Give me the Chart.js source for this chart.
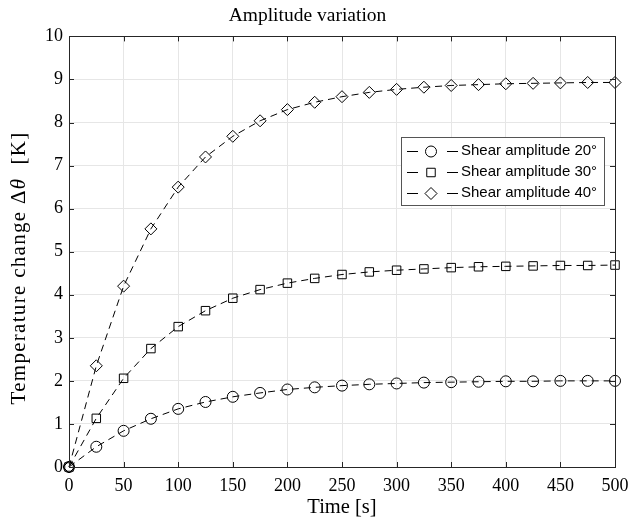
<!DOCTYPE html>
<html><head><meta charset="utf-8">
<script src="https://cdn.jsdelivr.net/npm/chart.js@4/dist/chart.umd.min.js"></script>
<style>html,body{margin:0;padding:0;background:#fff}#wrap{width:632px;height:520px}</style>
</head><body><div id="wrap"><canvas id="c" width="632" height="520"></canvas></div>
<script>
const times = [0,25,50,75,100,125,150,175,200,225,250,275,300,325,350,375,400,425,450,475,500];
const amp20 = [0,0.47,0.84,1.12,1.35,1.51,1.63,1.72,1.80,1.85,1.89,1.92,1.94,1.96,1.97,1.98,1.99,1.99,2.00,2.00,2.00];
const amp30 = [0,1.13,2.06,2.75,3.26,3.63,3.92,4.12,4.27,4.38,4.47,4.53,4.57,4.60,4.63,4.65,4.66,4.67,4.68,4.68,4.69];
const amp40 = [0,2.35,4.20,5.53,6.50,7.20,7.68,8.04,8.30,8.47,8.60,8.70,8.77,8.82,8.86,8.88,8.90,8.91,8.92,8.93,8.93];
const seriesLabels = ['Shear amplitude 20°','Shear amplitude 30°','Shear amplitude 40°'];
const pointStyles = ['circle','rect','rectRot'];
const xTicks = [0,50,100,150,200,250,300,350,400,450,500];
const yTicks = [0,1,2,3,4,5,6,7,8,9,10];
const titleText = 'Amplitude variation';
const xTitle = 'Time [s]';
const yTitleParts = [['Temperature change ', false], ['\u0394', false], ['\u03B8', true], ['  [K]', false]];

const SERIF = '"Liberation Serif", "Times New Roman", serif';
const SANS = '"Liberation Sans", Arial, sans-serif';

function mk(label, vals, style, r){
  return {label, data: times.map((t,i)=>({x:t,y:vals[i]})), borderColor:'#000', borderWidth:1,
    borderDash:[7,5], pointStyle:style, pointRadius:r, pointHoverRadius:r, pointBorderColor:'#000',
    pointBackgroundColor:'rgba(0,0,0,0)', pointBorderWidth:1, fill:false, tension:0, clip:false};
}

const boxTicks = {
  id:'boxTicks',
  afterDatasetsDraw(chart){
    const {ctx, chartArea:a, scales:{x,y}} = chart;
    ctx.save();
    ctx.strokeStyle = '#262626'; ctx.lineWidth = 1;
    ctx.beginPath();
    xTicks.forEach(v=>{const p=Math.round(x.getPixelForValue(v))+0.5;
      ctx.moveTo(p,a.bottom); ctx.lineTo(p,a.bottom-5);
      ctx.moveTo(p,a.top); ctx.lineTo(p,a.top+5);});
    yTicks.forEach(v=>{const p=Math.round(y.getPixelForValue(v))+0.5;
      ctx.moveTo(a.left,p); ctx.lineTo(a.left+5,p);
      ctx.moveTo(a.right,p); ctx.lineTo(a.right-5,p);});
    ctx.stroke();
    ctx.strokeRect(Math.round(a.left)+0.5, Math.round(a.top)+0.5, Math.round(a.right-a.left), Math.round(a.bottom-a.top));
    ctx.restore();
  },
  afterDraw(chart){
    const ctx = chart.ctx;
    // y axis title with italic theta
    ctx.save();
    ctx.translate(19, 268);
    ctx.rotate(-Math.PI/2);
    ctx.fillStyle = '#000'; ctx.textBaseline = 'middle'; ctx.textAlign = 'left';
    const fN = '21px ' + SERIF, fI = 'italic 21px ' + SERIF;
    ctx.letterSpacing = '1.3px';
    let total = 0;
    yTitleParts.forEach(([t,it])=>{ctx.font = it?fI:fN; total += ctx.measureText(t).width;});
    let xx = -total/2;
    yTitleParts.forEach(([t,it])=>{ctx.font = it?fI:fN; ctx.fillText(t, xx, 0); xx += ctx.measureText(t).width;});
    ctx.restore();
    // legend
    const L = 401, T = 137, W = 203, H = 68;
    ctx.save();
    ctx.fillStyle = '#fff'; ctx.fillRect(L,T,W,H);
    ctx.strokeStyle = '#555'; ctx.lineWidth = 1;
    ctx.strokeRect(L+0.5,T+0.5,W,H);
    const rows = [151,172,193];
    chart.data.datasets.forEach((ds,i)=>{
      const yy = rows[i]+0.5;
      ctx.strokeStyle='#000'; ctx.lineWidth=1; ctx.setLineDash([]);
      ctx.beginPath(); ctx.moveTo(407,yy); ctx.lineTo(418,yy); ctx.moveTo(447,yy); ctx.lineTo(458,yy); ctx.stroke();
      ctx.fillStyle='rgba(0,0,0,0)';
      Chart.helpers.drawPoint(ctx, {pointStyle: ds.pointStyle, radius: ds.pointRadius, borderWidth:1}, 431, yy);
      ctx.fillStyle='#000'; ctx.font = '15px ' + SANS; ctx.textBaseline='middle'; ctx.textAlign='left';
      ctx.fillText(ds.label, 461, rows[i]);
    });
    ctx.restore();
  }
};

new Chart(document.getElementById('c'), {
  type:'line',
  data:{datasets:[mk(seriesLabels[0],amp20,pointStyles[0],5.5), mk(seriesLabels[1],amp30,pointStyles[1],6), mk(seriesLabels[2],amp40,pointStyles[2],6)]},
  options:{
    responsive:false, animation:false, devicePixelRatio:1,
    layout:{padding:{left:0,right:17,top:0,bottom:0}},
    plugins:{
      legend:{display:false}, tooltip:{enabled:false},
      title:{display:true, text:titleText, color:'#000', font:{family:SERIF, size:19.5, weight:'normal'}, padding:{top:4,bottom:9}}
    },
    scales:{
      x:{type:'linear', min:0, max:500,
        afterBuildTicks(s){ s.ticks = xTicks.map(v=>({value:v})); },
        afterFit(s){ s.height = 53; s.paddingRight = 2; s.paddingLeft = 2; },
        grid:{color:'#e6e6e6', drawTicks:false},
        border:{display:false},
        ticks:{color:'#000', padding:8, maxRotation:0, font:{family:SERIF, size:18}},
        title:{display:true, text:xTitle, color:'#000', font:{family:SERIF, size:20.5}, padding:{top:0,bottom:0}}
      },
      y:{type:'linear', min:0, max:10,
        afterBuildTicks(s){ s.ticks = yTicks.map(v=>({value:v})); },
        afterFit(s){ s.width = 69; },
        grid:{color:'#e6e6e6', drawTicks:false},
        border:{display:false},
        ticks:{color:'#000', padding:6, font:{family:SERIF, size:18}}
      }
    }
  },
  plugins:[boxTicks]
});
</script></body></html>
